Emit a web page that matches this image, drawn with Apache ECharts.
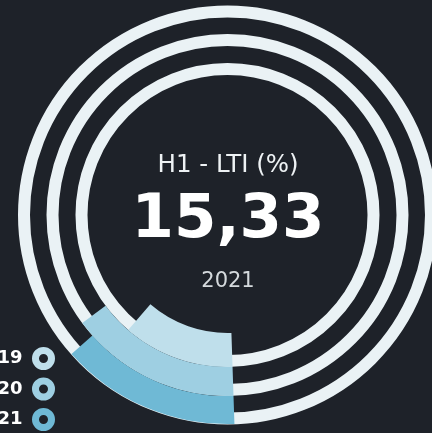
<!DOCTYPE html>
<html>
<head>
<meta charset="utf-8">
<script src="https://cdn.jsdelivr.net/npm/echarts@6/dist/echarts.min.js"></script>
<style>
html,body{margin:0;padding:0;background:#1e2229;}
#c{width:432px;height:433px;}
</style>
</head>
<body>
<div id="c"></div>
<script>
// ---- data ----
const years = ['2019', '2020', '2021'];
const values = [13.05, 16.88, 15.33];
const metricTitle = 'H1 - LTI (%)';
const angleMax = 110;

// ---- styling ----
const bg = '#1e2229';
const trackColor = '#eaf2f5';
const barColors = ['#bfdfeb', '#9ecfe2', '#6fb9d5'];
const center = [227.5, 215];
const barRadii = [[118, 152], [152, 181], [181, 209]];
const trackRadii = [146, 175, 203.5];
const startAngle = -88.1;

const chart = echarts.init(document.getElementById('c'), null, {renderer: 'canvas'});

const polar = [];
const angleAxis = [];
const radiusAxis = [];
const series = [];

// track rings (angle axis lines)
trackRadii.forEach(function (r, i) {
  polar.push({center: center, radius: [0, r]});
  angleAxis.push({
    polarIndex: i, type: 'value', min: 0, max: 1, startAngle: 90, z: 0,
    axisLine: {show: true, lineStyle: {color: trackColor, width: 12}},
    axisTick: {show: false}, axisLabel: {show: false}, splitLine: {show: false}
  });
  radiusAxis.push({polarIndex: i, type: 'value', show: false});
});

// value bars
years.forEach(function (y, i) {
  const pi = trackRadii.length + i;
  polar.push({center: center, radius: barRadii[i]});
  angleAxis.push({
    polarIndex: pi, type: 'value', min: 0, max: angleMax, startAngle: startAngle, clockwise: true,
    show: false
  });
  radiusAxis.push({polarIndex: pi, type: 'category', data: [y], show: false});
  series.push({
    type: 'bar', name: y, coordinateSystem: 'polar', polarIndex: pi,
    data: [values[i]], barCategoryGap: '0%', z: 5,
    itemStyle: {color: barColors[i]},
    emphasis: {disabled: true}
  });
});

const last = values.length - 1;
const valueText = values[last].toFixed(2).replace('.', ',');

chart.setOption({
  backgroundColor: bg,
  animation: false,
  polar: polar,
  angleAxis: angleAxis,
  radiusAxis: radiusAxis,
  legend: {
    orient: 'vertical', align: 'right', left: -27.6, top: 347, padding: 0,
    itemGap: 7.5, itemWidth: 16, itemHeight: 16, icon: 'circle',
    selectedMode: false,
    textStyle: {color: '#ffffff', fontSize: 18, fontWeight: 'bold', fontFamily: 'DejaVu Sans', padding: [0, 8, 0, 0]},
    data: years.map(function (y, i) {
      return {name: y, itemStyle: {color: bg, borderColor: barColors[i], borderWidth: 7}};
    })
  },
  graphic: [
    {type: 'text', x: 228, y: 166, z: 10,
      style: {text: metricTitle, fill: '#eef2f4', font: '24.5px "DejaVu Sans"',
        align: 'center', verticalAlign: 'middle', textAlign: 'center', textVerticalAlign: 'middle'}},
    {type: 'text', x: 228, y: 221, z: 10,
      style: {text: valueText, fill: '#ffffff', font: 'bold 61px "DejaVu Sans"',
        align: 'center', verticalAlign: 'middle', textAlign: 'center', textVerticalAlign: 'middle'}},
    {type: 'text', x: 228, y: 281.5, z: 10,
      style: {text: years[last], fill: '#d5dadd', font: '21px "DejaVu Sans"',
        align: 'center', verticalAlign: 'middle', textAlign: 'center', textVerticalAlign: 'middle'}}
  ],
  series: series
});
</script>
</body>
</html>
